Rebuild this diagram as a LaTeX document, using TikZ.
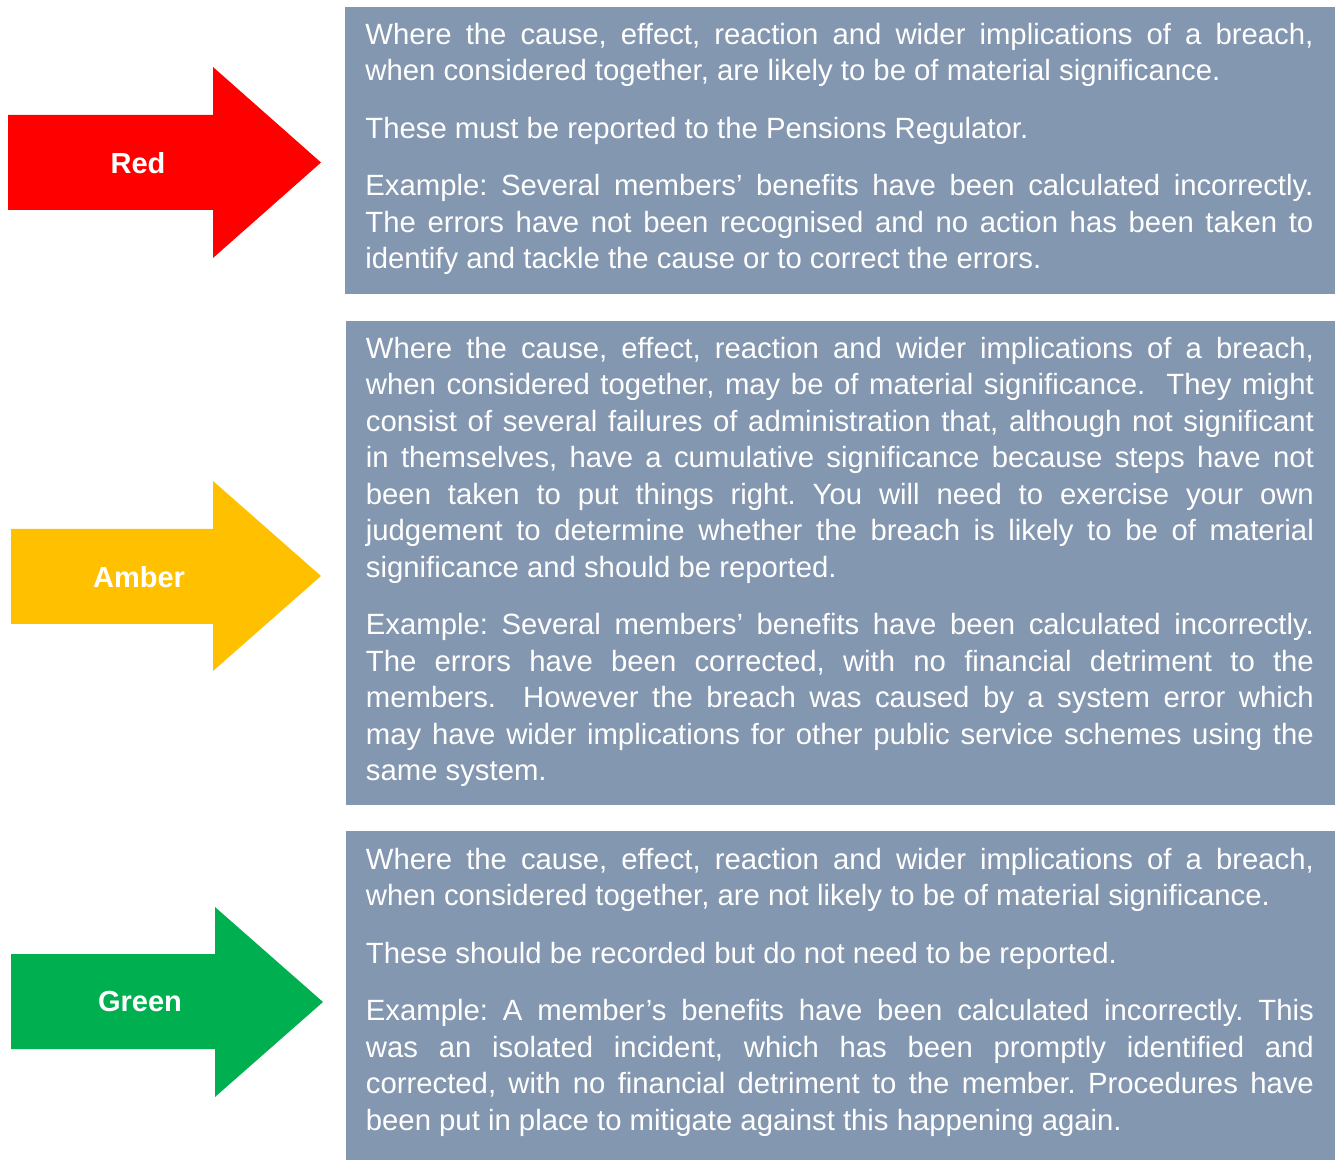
\documentclass[tikz,border=0pt]{standalone}
\usepackage{fontspec}
\setmainfont{Liberation Sans}
\usepackage{tikz}
\usetikzlibrary{positioning}
\definecolor{panelblue}{HTML}{8497B0}
\definecolor{flagred}{HTML}{FF0000}
\definecolor{flagamber}{HTML}{FFC000}
\definecolor{flaggreen}{HTML}{00B050}
\newcommand{\bodyfont}{\fontsize{14.65pt}{18.25pt}\selectfont\setlength{\parindent}{0pt}\setlength{\parskip}{10.5pt}\frenchspacing}
\newcommand{\flagfont}{\fontsize{14.5pt}{16pt}\selectfont\bfseries}

\begin{document}
\begin{tikzpicture}[x=0.5pt, y=-0.5pt,
    panel/.style={fill=panelblue, inner sep=0pt, anchor=north west, minimum width=495pt},
    paratext/.style={text=white, font=\bodyfont, text width=474pt, align=justify, inner sep=0pt, anchor=north west},
    flaglabel/.style={text=white, font=\flagfont, inner sep=0pt}]
\useasboundingbox (0,0) rectangle (1335,1160);

% red
\fill[flagred] (8,115) -- (213,115) -- (213,67) -- (321,162.5) -- (213,258) -- (213,210) -- (8,210) -- cycle;
\node[flaglabel] (redlabel) at (138,163) {Red};
\node[panel, minimum height=143.5pt] (redpanel) at (345,7) {};
\node[paratext] (redtext) at (365,22.8) {Where the cause, effect, reaction and wider implications of a breach,\linebreak when considered together, are likely to be of material significance.

These must be reported to the Pensions Regulator.

Example: Several members’ benefits have been calculated incorrectly.\linebreak The errors have not been recognised and no action has been taken to\linebreak identify and tackle the cause or to correct the errors.};

% amber
\fill[flagamber] (11,529) -- (213,529) -- (213,481) -- (321,576) -- (213,671) -- (213,624) -- (11,624) -- cycle;
\node[flaglabel] (amberlabel) at (139,577) {Amber};
\node[panel, minimum height=242pt] (amberpanel) at (346,321) {};
\node[paratext] (ambertext) at (365.5,336.8) {Where the cause, effect, reaction and wider implications of a breach,\linebreak when considered together, may be of material significance.\ \ They might\linebreak consist of several failures of administration that, although not significant\linebreak in themselves, have a cumulative significance because steps have not\linebreak been taken to put things right. You will need to exercise your own\linebreak judgement to determine whether the breach is likely to be of material\linebreak significance and should be reported.

Example: Several members’ benefits have been calculated incorrectly.\linebreak The errors have been corrected, with no financial detriment to the\linebreak members.\ \ However the breach was caused by a system error which\linebreak may have wider implications for other public service schemes using the\linebreak same system.};

% green
\fill[flaggreen] (11,954) -- (215,954) -- (215,907) -- (323,1002) -- (215,1097) -- (215,1049) -- (11,1049) -- cycle;
\node[flaglabel] (greenlabel) at (140,1002) {Green};
\node[panel, minimum height=164.5pt] (greenpanel) at (346,831) {};
\node[paratext] (greentext) at (365.5,847.8) {Where the cause, effect, reaction and wider implications of a breach,\linebreak when considered together, are not likely to be of material significance.

These should be recorded but do not need to be reported.

Example: A member’s benefits have been calculated incorrectly. This\linebreak was an isolated incident, which has been promptly identified and\linebreak corrected, with no financial detriment to the member. Procedures have\linebreak been put in place to mitigate against this happening again.};
\end{tikzpicture}
\end{document}
